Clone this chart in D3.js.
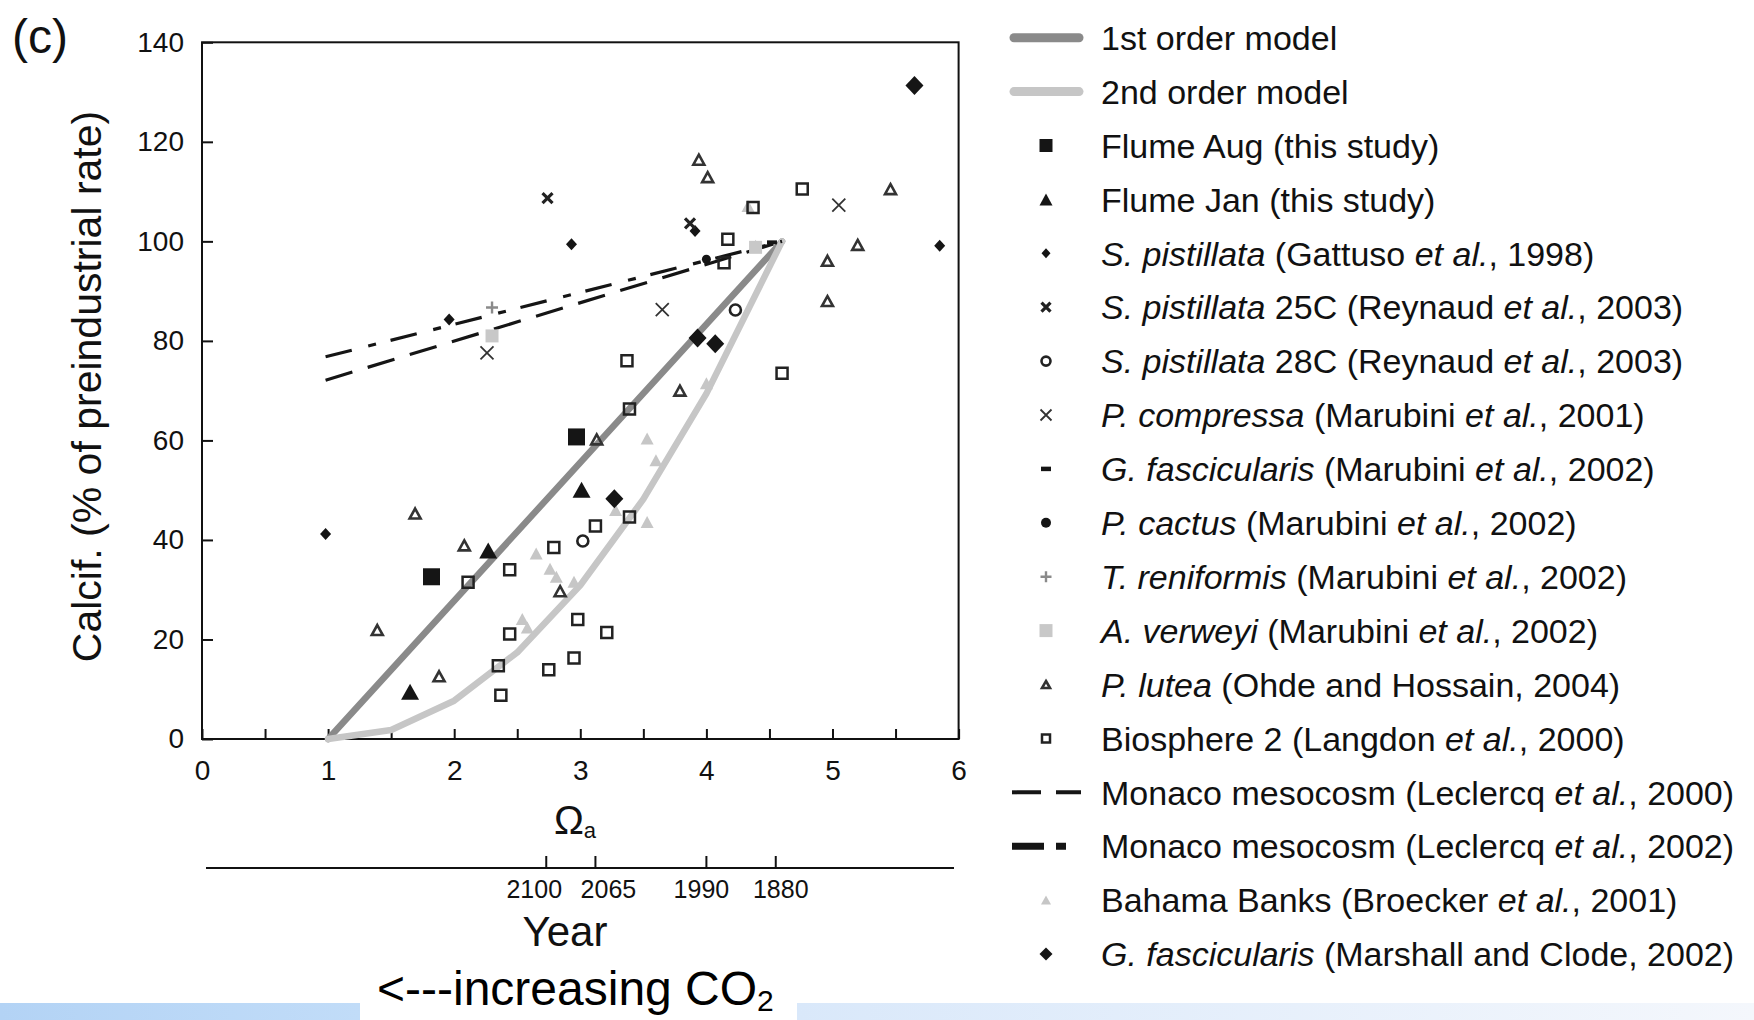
<!DOCTYPE html>
<html>
<head>
<meta charset="utf-8">
<script src="https://cdn.jsdelivr.net/npm/d3@7"></script>
<style>
  html, body { margin: 0; padding: 0; background: #ffffff; }
  svg { display: block; font-family: "Liberation Sans", Arial, Helvetica, sans-serif; }
</style>
</head>
<body>
<svg id="chart" width="1754" height="1020"></svg>
<script>
// ---- Data: [saturation state Ωa, calcification (% of preindustrial rate)] ----
const firstOrderModel  = [[1, 0], [4.6, 100]];
const secondOrderModel = [[1, 0], [1.5, 1.8], [2, 7.7], [2.5, 17.4], [3, 30.9], [3.5, 48.2], [4, 69.4], [4.6, 100]];
const leclercq2000 = [[0.98, 72.1], [4.6, 100]];
const leclercq2002 = [[0.98, 76.8], [4.6, 100]];

const flumeAug = [[1.82, 32.6], [2.97, 60.7]];
const flumeJan = [[1.65, 9.5], [2.27, 37.9], [3.01, 50.1]];
const pistillataGattuso = [[0.98, 41.2], [1.96, 84.3], [2.93, 99.4], [3.91, 102.1], [5.85, 99.1]];
const pistillata25C = [[2.74, 108.7], [3.87, 103.6]];
const pistillata28C = [[3.02, 39.8], [4.23, 86.2]];
const compressa = [[2.26, 77.6], [3.65, 86.3], [5.05, 107.3]];
const fascicularisMarubini = [[4.52, 99.8]];
const cactus = [[4.0, 96.4]];
const reniformis = [[2.3, 86.7]];
const verweyi = [[2.3, 81.0], [4.39, 98.8]];
const lutea = [[1.39, 21.9], [1.69, 45.3], [1.88, 12.6], [2.08, 38.9], [2.84, 29.7], [3.13, 60.2],
               [3.79, 70.0], [3.94, 116.4], [4.01, 112.9], [4.96, 96.1], [4.96, 88.0], [5.2, 99.3], [5.46, 110.5]];
const biosphere2 = [[3.39, 66.3], [2.11, 31.5], [2.44, 34.0], [2.79, 38.5], [3.12, 42.8], [3.39, 44.6],
                    [2.44, 21.1], [2.98, 24.0], [3.21, 21.4], [2.35, 14.7], [2.95, 16.3], [2.75, 13.9],
                    [2.37, 8.8], [3.37, 76.0], [4.76, 110.5], [4.37, 106.8], [4.17, 100.4], [4.14, 95.7], [4.6, 73.5]];
const bahamaBanks = [[3.53, 60.4], [3.6, 56.0], [3.53, 43.6], [2.65, 37.3], [2.76, 34.2], [2.81, 32.6],
                     [2.95, 31.6], [2.54, 24.1], [2.58, 22.4], [3.28, 46.0], [4.0, 71.5], [4.33, 107.1], [4.39, 99.1]];
const fascicularisMarshall = [[5.65, 131.3], [3.93, 80.6], [4.07, 79.4], [3.27, 48.3]];

// Axis ticks
const omegaTicks = [0, 1, 2, 3, 4, 5, 6];
const omegaMinorTicks = [0.5, 1.5, 2.5, 3.5, 4.5, 5.5];
const calcTicks = [0, 20, 40, 60, 80, 100, 120, 140];
const yearLabels = ["2100", "2065", "1990", "1880"];
const yearOmega = [2.73, 3.12, 4.0, 4.55];

// Legend labels: segments of [text, italic]
const legendLabels = [
  [["1st order model", 0]],
  [["2nd order model", 0]],
  [["Flume Aug (this study)", 0]],
  [["Flume Jan (this study)", 0]],
  [["S. pistillata", 1], [" (Gattuso ", 0], ["et al.", 1], [", 1998)", 0]],
  [["S. pistillata", 1], [" 25C (Reynaud ", 0], ["et al.", 1], [", 2003)", 0]],
  [["S. pistillata", 1], [" 28C (Reynaud ", 0], ["et al.", 1], [", 2003)", 0]],
  [["P. compressa", 1], [" (Marubini ", 0], ["et al.", 1], [", 2001)", 0]],
  [["G. fascicularis", 1], [" (Marubini ", 0], ["et al.", 1], [", 2002)", 0]],
  [["P. cactus", 1], [" (Marubini ", 0], ["et al.", 1], [", 2002)", 0]],
  [["T. reniformis", 1], [" (Marubini ", 0], ["et al.", 1], [", 2002)", 0]],
  [["A. verweyi", 1], [" (Marubini ", 0], ["et al.", 1], [", 2002)", 0]],
  [["P. lutea", 1], [" (Ohde and Hossain, 2004)", 0]],
  [["Biosphere 2 (Langdon ", 0], ["et al.", 1], [", 2000)", 0]],
  [["Monaco mesocosm (Leclercq ", 0], ["et al.", 1], [", 2000)", 0]],
  [["Monaco mesocosm (Leclercq ", 0], ["et al.", 1], [", 2002)", 0]],
  [["Bahama Banks (Broecker ", 0], ["et al.", 1], [", 2001)", 0]],
  [["G. fascicularis", 1], [" (Marshall and Clode, 2002)", 0]]
];

// ---- Marker shapes ----
const shapes = {
  square:   s => `M${-s/2},${-s/2}h${s}v${s}h${-s}Z`,
  triangle: (w, h) => `M0,${-h/2}L${w/2},${h/2}L${-w/2},${h/2}Z`,
  diamond:  (w, h) => `M0,${-h/2}L${w/2},0L0,${h/2}L${-w/2},0Z`,
  cross:    s => `M${-s/2},${-s/2}L${s/2},${s/2}M${s/2},${-s/2}L${-s/2},${s/2}`,
  plus:     s => `M${-s/2},0H${s/2}M0,${-s/2}V${s/2}`,
  bar:      (w, h) => `M${-w/2},${-h/2}h${w}v${h}h${-w}Z`
};
const INK = "#151515";
const markerStyles = {
  bigSquare:    { plot: shapes.square(17),        legend: shapes.square(13),        fill: INK },
  bigTriangle:  { plot: shapes.triangle(18, 16),  legend: shapes.triangle(13, 12),  fill: INK },
  smallDiamond: { plot: shapes.diamond(11, 12),   legend: shapes.diamond(9, 10),    fill: INK },
  boldX:        { plot: shapes.cross(10),         legend: shapes.cross(9),          stroke: "#222", width: 3.2 },
  openCircle:   { circle: [5.5, 4.5],                                                stroke: "#222", width: 2.6 },
  thinX:        { plot: shapes.cross(13),         legend: shapes.cross(11),         stroke: "#333", width: 1.8 },
  bar:          { plot: shapes.bar(10, 4),        legend: shapes.bar(10, 4.5),      fill: INK },
  dot:          { circle: [4.5, 5],                                                  fill: INK },
  plus:         { plot: shapes.plus(12),          legend: shapes.plus(11),          stroke: "#8a8a8a", width: 2.4 },
  graySquare:   { plot: shapes.square(13),        legend: shapes.square(13),        fill: "#c8c8c8" },
  openTriangle: { plot: shapes.triangle(11, 10),  legend: shapes.triangle(8, 7),    stroke: "#333", width: 2.6 },
  openSquare:   { plot: shapes.square(11),        legend: shapes.square(8),         stroke: "#222", width: 2.5 },
  grayTriangle: { plot: shapes.triangle(13, 12),  legend: shapes.triangle(10, 9),   fill: "#c6c6c6" },
  bigDiamond:   { plot: shapes.diamond(18, 19),   legend: shapes.diamond(13, 13),   fill: INK }
};

// Point series in drawing order (lighter marks underneath)
const pointSeries = [
  { data: bahamaBanks,          marker: "grayTriangle", legend: 16 },
  { data: verweyi,              marker: "graySquare",   legend: 11 },
  { data: reniformis,           marker: "plus",         legend: 10 },
  { data: lutea,                marker: "openTriangle", legend: 12 },
  { data: biosphere2,           marker: "openSquare",   legend: 13 },
  { data: pistillata28C,        marker: "openCircle",   legend: 6 },
  { data: compressa,            marker: "thinX",        legend: 7 },
  { data: fascicularisMarubini, marker: "bar",          legend: 8 },
  { data: cactus,               marker: "dot",          legend: 9 },
  { data: pistillataGattuso,    marker: "smallDiamond", legend: 4 },
  { data: pistillata25C,        marker: "boldX",        legend: 5 },
  { data: flumeAug,             marker: "bigSquare",    legend: 2 },
  { data: flumeJan,             marker: "bigTriangle",  legend: 3 },
  { data: fascicularisMarshall, marker: "bigDiamond",   legend: 17 }
];

const lineSeries = [
  { data: firstOrderModel,  color: "#8a8a8a", width: 6.5, dash: null,         legendWidth: 9, legendDash: null,           cap: "round", legend: 0 },
  { data: secondOrderModel, color: "#c6c6c6", width: 6.5, dash: null,         legendWidth: 9, legendDash: null,           cap: "round", legend: 1 },
  { data: leclercq2000,     color: "#151515", width: 3.2, dash: "28,16",      legendWidth: 4, legendDash: "29,15",        cap: "butt",  legend: 14 },
  { data: leclercq2002,     color: "#151515", width: 3.2, dash: "27,17,8,15", legendWidth: 7, legendDash: "32,12,10,200", cap: "butt",  legend: 15 }
];

// ---- Layout ----
const svg = d3.select("#chart");
const x = d3.scaleLinear().domain([0, 6]).range([202, 958.6]);
const y = d3.scaleLinear().domain([0, 140]).range([739, 42.3]);

function drawMarker(g, name, px, py, isLegend) {
  const st = markerStyles[name];
  let el;
  if (st.circle) {
    el = g.append("circle").attr("cx", px).attr("cy", py).attr("r", st.circle[isLegend ? 1 : 0]);
  } else {
    el = g.append("path").attr("d", isLegend ? st.legend : st.plot).attr("transform", `translate(${px},${py})`);
  }
  el.attr("fill", st.fill || "none");
  if (st.stroke) el.attr("stroke", st.stroke).attr("stroke-width", st.width);
  return el;
}

// Bottom band
const defs = svg.append("defs");
const gl = defs.append("linearGradient").attr("id", "bandL");
gl.append("stop").attr("offset", "0%").attr("stop-color", "#b3d3f5");
gl.append("stop").attr("offset", "100%").attr("stop-color", "#c1dcf8");
const gr = defs.append("linearGradient").attr("id", "bandR");
gr.append("stop").attr("offset", "0%").attr("stop-color", "#d9e8fa");
gr.append("stop").attr("offset", "100%").attr("stop-color", "#f4f7fc");
svg.append("rect").attr("x", 0).attr("y", 1003).attr("width", 360).attr("height", 17).attr("fill", "url(#bandL)");
svg.append("rect").attr("x", 797).attr("y", 1003).attr("width", 957).attr("height", 17).attr("fill", "url(#bandR)");

// Frame
svg.append("rect")
  .attr("x", x(0)).attr("y", y(140))
  .attr("width", x(6) - x(0)).attr("height", y(0) - y(140))
  .attr("fill", "none").attr("stroke", "#111").attr("stroke-width", 2);

// Ωa axis (ticks pointing inward)
const xAxis = d3.axisBottom(x).tickValues(omegaTicks.concat(omegaMinorTicks)).tickSizeInner(-10).tickSizeOuter(0)
  .tickFormat(d => omegaTicks.includes(d) ? d3.format("d")(d) : "");
const gx = svg.append("g").attr("transform", `translate(0,${y(0)})`).call(xAxis);
gx.select(".domain").remove();
gx.selectAll(".tick line").attr("stroke", "#111").attr("stroke-width", 2);
gx.selectAll(".tick text").attr("font-size", 28).attr("fill", "#111").attr("y", 21).attr("dy", "0.71em")
  .attr("font-family", "'Liberation Sans', Arial, sans-serif");

// Calcification axis
const yAxis = d3.axisLeft(y).tickValues(calcTicks).tickSizeInner(-11).tickSizeOuter(0).tickPadding(18);
const gy = svg.append("g").attr("transform", `translate(${x(0)},0)`).call(yAxis);
gy.select(".domain").remove();
gy.selectAll(".tick line").attr("stroke", "#111").attr("stroke-width", 2);
gy.selectAll(".tick text").attr("font-size", 28).attr("fill", "#111").attr("x", -18)
  .attr("font-family", "'Liberation Sans', Arial, sans-serif");

// Axis titles
const omegaTitle = svg.append("text").attr("x", 575).attr("y", 834).attr("text-anchor", "middle")
  .attr("font-size", 40).attr("fill", "#111");
omegaTitle.append("tspan").text("Ω");
omegaTitle.append("tspan").attr("font-size", 22).attr("dy", 4).text("a");

svg.append("text").attr("transform", "translate(101,386.5) rotate(-90)").attr("text-anchor", "middle")
  .attr("font-size", 41).attr("fill", "#111").text("Calcif. (% of preindustrial rate)");

svg.append("text").attr("x", 12).attr("y", 53).attr("font-size", 48).attr("fill", "#111").text("(c)");

// Year axis
const yearY = 868;
svg.append("line").attr("x1", 206).attr("x2", 954).attr("y1", yearY).attr("y2", yearY)
  .attr("stroke", "#111").attr("stroke-width", 2);
const yearShift = [-12, 13, -5, 5];
yearOmega.forEach((w, i) => {
  svg.append("line").attr("x1", x(w)).attr("x2", x(w)).attr("y1", yearY).attr("y2", yearY - 12)
    .attr("stroke", "#111").attr("stroke-width", 2);
  svg.append("text").attr("x", x(w) + yearShift[i]).attr("y", 898).attr("text-anchor", "middle")
    .attr("font-size", 25).attr("fill", "#111").text(yearLabels[i]);
});
svg.append("text").attr("x", 565).attr("y", 946).attr("text-anchor", "middle")
  .attr("font-size", 42).attr("fill", "#111").text("Year");

// CO2 direction note
const note = svg.append("text").attr("x", 377).attr("y", 1005).attr("font-size", 48).attr("fill", "#000");
note.append("tspan").text("<---increasing CO");
note.append("tspan").attr("font-size", 30).attr("dy", 6).text("2");

// Lines
const lineGen = d3.line().x(d => x(d[0])).y(d => y(d[1]));
const gLines = svg.append("g");
lineSeries.forEach(s => {
  gLines.append("path").attr("d", lineGen(s.data)).attr("fill", "none")
    .attr("stroke", s.color).attr("stroke-width", s.width)
    .attr("stroke-linecap", s.cap).attr("stroke-linejoin", "round")
    .attr("stroke-dasharray", s.dash);
});

// Points
const gPts = svg.append("g");
pointSeries.forEach(s => {
  s.data.forEach(d => drawMarker(gPts, s.marker, x(d[0]), y(d[1]), false));
});

// Legend
const legX = 1101, legMarkX = 1046, legY0 = 37.7, legStep = 53.9;
const gLeg = svg.append("g");
legendLabels.forEach((segs, i) => {
  const t = gLeg.append("text").attr("x", legX).attr("y", legY0 + i * legStep).attr("dy", "0.36em")
    .attr("font-size", 34).attr("fill", "#111");
  segs.forEach(([txt, it]) => t.append("tspan").attr("font-style", it ? "italic" : "normal").text(txt));
});
lineSeries.forEach(s => {
  const ly = legY0 + s.legend * legStep;
  gLeg.append("line").attr("x1", s.dash ? 1012 : 1014).attr("x2", s.dash ? 1081 : 1079).attr("y1", ly).attr("y2", ly)
    .attr("stroke", s.color).attr("stroke-width", s.legendWidth)
    .attr("stroke-linecap", s.cap).attr("stroke-dasharray", s.legendDash);
});
pointSeries.forEach(s => drawMarker(gLeg, s.marker, legMarkX, legY0 + s.legend * legStep, true));
</script>
</body>
</html>
